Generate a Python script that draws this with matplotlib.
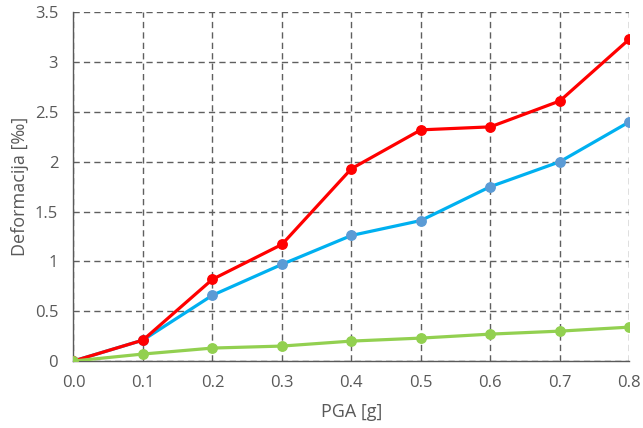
import matplotlib
matplotlib.use("Agg")
import matplotlib.pyplot as plt
from matplotlib.ticker import FuncFormatter

plt.rcParams['font.family'] = ['Open Sans', 'DejaVu Sans']

pga = [0.0, 0.1, 0.2, 0.3, 0.4, 0.5, 0.6, 0.7, 0.8]
red_vals = [0.0, 0.21, 0.82, 1.17, 1.93, 2.32, 2.35, 2.61, 3.23]
blue_vals = [0.0, 0.21, 0.66, 0.97, 1.26, 1.41, 1.75, 2.00, 2.40]
green_vals = [0.0, 0.07, 0.13, 0.15, 0.20, 0.23, 0.27, 0.30, 0.34]

x_ticks = [0.0, 0.1, 0.2, 0.3, 0.4, 0.5, 0.6, 0.7, 0.8]
y_ticks = [0, 0.5, 1, 1.5, 2, 2.5, 3, 3.5]

fig = plt.figure(figsize=(6.43, 4.28), dpi=100)
ax = fig.add_axes([0.1143, 0.1565, 0.8644, 0.8148])

lw = 2.3
ms = 6.8
ax.plot(pga, blue_vals, color='#00B0F0', lw=lw, marker='o', ms=ms,
        markerfacecolor='#5B9BD5', markeredgecolor='#5B9BD5', zorder=3)
ax.plot(pga, red_vals, color='#FF0000', lw=lw, marker='o', ms=ms,
        markerfacecolor='#FF0000', markeredgecolor='#FF0000', zorder=4)
ax.plot(pga, green_vals, color='#92D050', lw=lw, marker='o', ms=ms,
        markerfacecolor='#92D050', markeredgecolor='#92D050', zorder=5)

ax.set_xlim(0, 0.8)
ax.set_ylim(0, 3.5)
ax.set_xticks(x_ticks)
ax.set_yticks(y_ticks)
ax.xaxis.set_major_formatter(FuncFormatter(lambda v, p: f"{v:.1f}"))
ax.yaxis.set_major_formatter(FuncFormatter(lambda v, p: f"{v:g}"))

ax.grid(True, color='#5F5F5F', linestyle=(0, (4.5, 3)), linewidth=1.0, zorder=1)
ax.set_axisbelow(True)
for side in ['top', 'right']:
    ax.spines[side].set_visible(False)
for side in ['left', 'bottom']:
    ax.spines[side].set_color('#595959')
    ax.spines[side].set_linewidth(1.0)

ax.tick_params(length=0, labelsize=12, colors='#595959')
ax.tick_params(axis='y', pad=11)
ax.tick_params(axis='x', pad=10)
ax.set_xlabel('PGA [g]', fontsize=13, color='#595959', labelpad=9)
ax.set_ylabel('Deformacija [‰]', fontsize=13, color='#595959', labelpad=4)

fig.savefig('out.png', dpi=100)
